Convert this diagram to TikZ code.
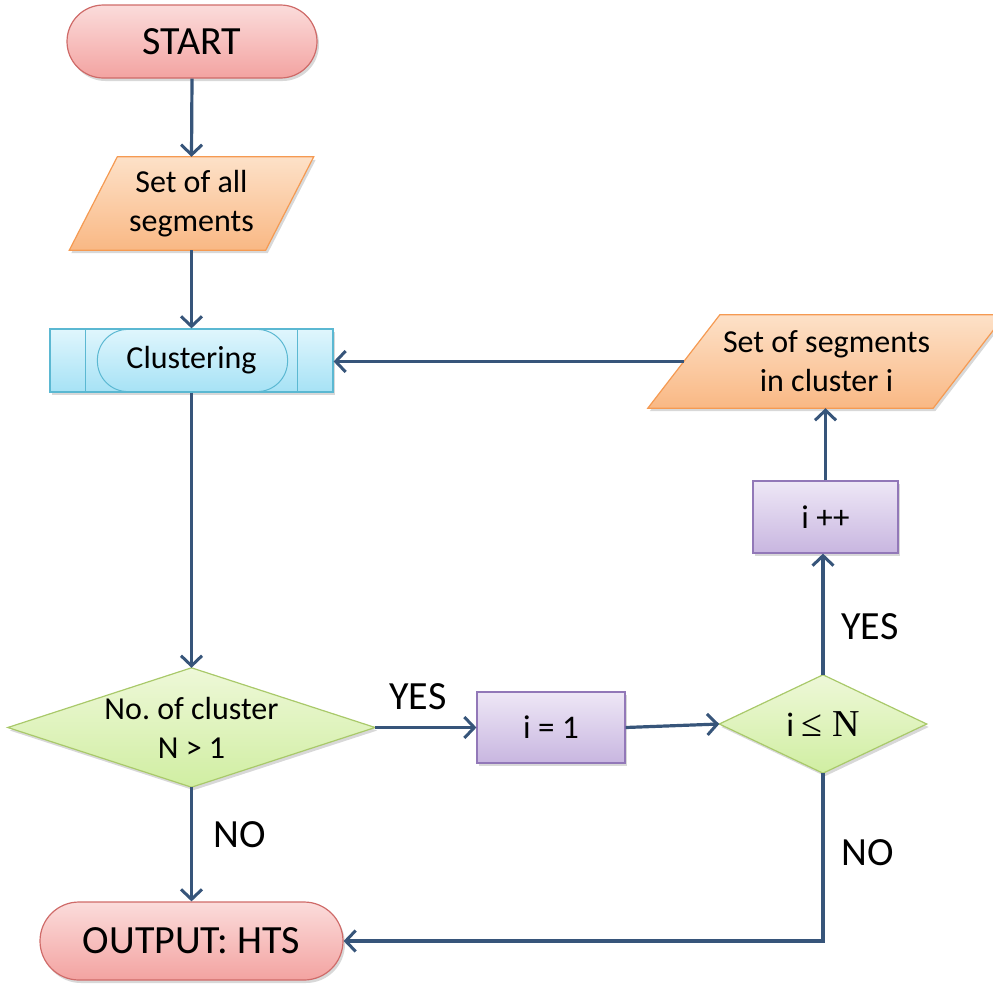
\documentclass[tikz,border=0pt]{standalone}
\usepackage{fontspec}
\setmainfont{Carlito}
\newfontfamily\serifmath{Liberation Serif}
\usetikzlibrary{arrows.meta,shapes.misc,shadows,backgrounds}
\definecolor{linec}{HTML}{37557A}
\definecolor{redtop}{HTML}{FBDCDB}
\definecolor{redbot}{HTML}{F3A3A1}
\definecolor{redline}{HTML}{CF6B69}
\definecolor{orgtop}{HTML}{FDE1C8}
\definecolor{orgbot}{HTML}{F9B884}
\definecolor{orgline}{HTML}{F59A52}
\definecolor{blutop}{HTML}{E0F6FD}
\definecolor{blubot}{HTML}{A6E2F5}
\definecolor{bluline}{HTML}{5BB8D2}
\definecolor{grntop}{HTML}{EEF8D8}
\definecolor{grnbot}{HTML}{D0EEA2}
\definecolor{grnline}{HTML}{A9C96A}
\definecolor{purtop}{HTML}{EEE7F6}
\definecolor{purbot}{HTML}{C8B6E0}
\definecolor{purline}{HTML}{9278B8}
\frenchspacing
\begin{document}
\begin{tikzpicture}[x=1pt,y=-1pt,
  conn/.style={draw=linec, line width=3.2pt, -{Straight Barb[length=10pt,width=21pt,line width=3pt]}},
  shadowed/.style={drop shadow={shadow xshift=2pt,shadow yshift=-3pt,opacity=0.22,fill=black!70}},
  term/.style={rounded rectangle, draw=redline, line width=1.2pt, top color=redtop, bottom color=redbot, shadowed, font=\fontsize{40}{44}\selectfont, inner sep=0pt},
  proc/.style={rectangle, draw=purline, line width=1.2pt, top color=purtop, bottom color=purbot, shadowed, font=\fontsize{33}{38}\selectfont, inner sep=0pt},
  predef/.style={rectangle, draw=bluline, line width=1.2pt, top color=blutop, bottom color=blubot, shadowed, font=\fontsize{32}{38}\selectfont, inner sep=0pt},
  anch/.style={rectangle, inner sep=0pt, align=center, font=\fontsize{32}{39}\selectfont},
  iofill/.style={draw=orgline, line width=1.2pt, top color=orgtop, bottom color=orgbot, shadowed},
  decfill/.style={draw=grnline, line width=1.2pt, top color=grntop, bottom color=grnbot, shadowed},
  lab/.style={font=\fontsize{40}{44}\selectfont, inner sep=0pt}
]
\useasboundingbox (0,0) rectangle (993,983);

% nodes
\node[term, minimum width=250pt, minimum height=73pt] (start) at (192,41.5) {START};
\node[anch, minimum width=196pt, minimum height=93pt] (p1) at (191.5,203.5) {Set of all\\segments};
\node[predef, minimum width=283pt, minimum height=63pt] (cl) at (191.5,360.5) {Clustering};
\node[anch, minimum width=285pt, minimum height=93pt] (p2) at (826.5,361.5) {Set of segments\\in cluster i};
\node[proc, minimum width=145pt, minimum height=72pt] (ipp) at (825.5,517) {i ++};
\node[anch, minimum width=367pt, minimum height=119pt] (d1) at (191.5,727.5) {No. of cluster\\N > 1};
\node[proc, minimum width=148pt, minimum height=71pt] (i1) at (551,727.5) {i = 1};
\node[anch, minimum width=207pt, minimum height=98pt, font=\fontsize{34}{38}\selectfont] (d2) at (823,724) {i {\serifmath\fontsize{38}{38}\selectfont ≤ N}};
\node[term, minimum width=303pt, minimum height=78pt] (out) at (191.5,941) {OUTPUT: HTS};

% clustering inner decoration
\draw[bluline, line width=1.2pt] ([xshift=36pt]cl.north west) -- ([xshift=36pt]cl.south west);
\draw[bluline, line width=1.2pt] ([xshift=-36pt]cl.north east) -- ([xshift=-36pt]cl.south east);
\draw[bluline, line width=1pt, rounded corners=30.5pt] ([xshift=48pt,yshift=-1pt]cl.north west) rectangle ([xshift=-46pt,yshift=1pt]cl.south east);

% background shapes
\begin{scope}[on background layer]
\path[iofill] ([xshift=24pt]p1.north west) -- ([xshift=24pt]p1.north east) -- ([xshift=-24pt]p1.south east) -- ([xshift=-24pt]p1.south west) -- cycle;
\path[iofill] ([xshift=36pt]p2.north west) -- ([xshift=36pt]p2.north east) -- ([xshift=-36pt]p2.south east) -- ([xshift=-36pt]p2.south west) -- cycle;
\path[decfill] (d1.north) -- (d1.east) -- (d1.south) -- (d1.west) -- cycle;
\path[decfill] (d2.north) -- (d2.east) -- (d2.south) -- (d2.west) -- cycle;
\end{scope}

% connectors
\draw[conn] (start.south) -- (p1.north);
\draw[conn] (p1.south) -- (cl.north);
\draw[conn] (cl.south) -- (d1.north);
\draw[conn] (d1.east) -- (i1.west);
\draw[conn] (i1.east) -- (d2.west);
\draw[conn] (d2.north) -- (ipp.south -| d2.north);
\draw[conn] (ipp.north) -- (p2.south -| ipp.north);
\draw[conn] (p2.west) -- (p2.west -| cl.east);
\draw[conn] (d1.south) -- (out.north);
\draw[conn] (d2.south) |- (out.east);

% labels
\node[lab] (yes1) at (418,697) {YES};
\node[lab] (yes2) at (870,627) {YES};
\node[lab] (no1) at (240,835) {NO};
\node[lab] (no2) at (868,853) {NO};
\end{tikzpicture}
\end{document}
